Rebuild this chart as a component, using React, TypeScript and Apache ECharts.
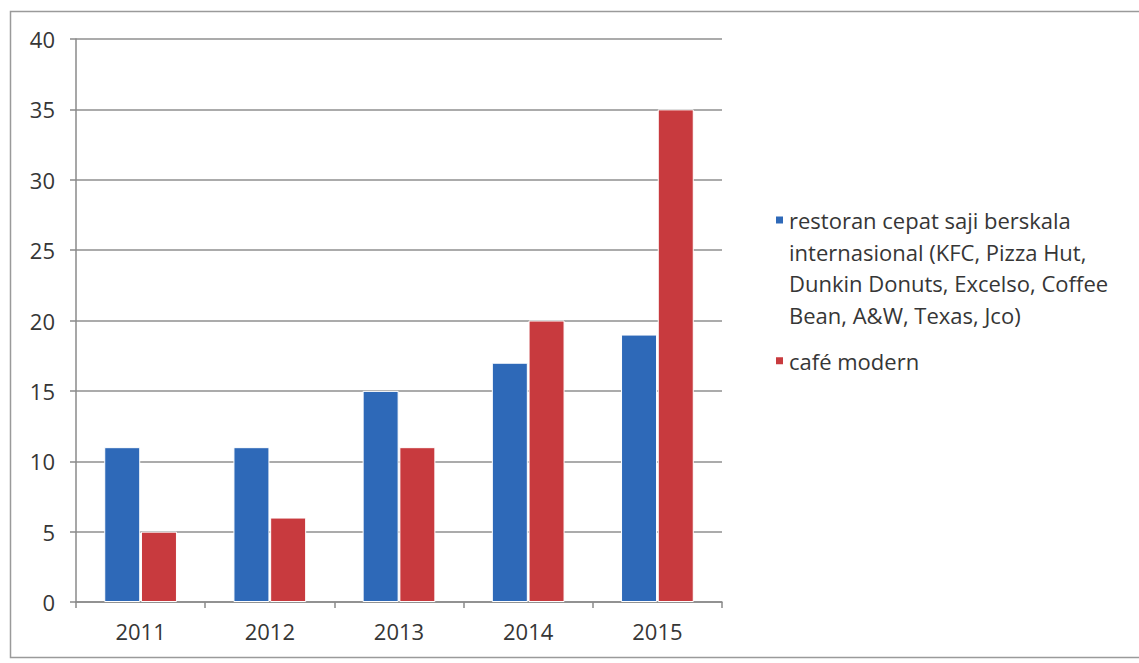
import React, { useEffect, useRef } from "react";
import * as echarts from "echarts";

const years = ["2011", "2012", "2013", "2014", "2015"];
const fastFood = [11, 11, 15, 17, 19];
const cafeModern = [5, 6, 11, 20, 35];
const seriesNames = [
  "restoran cepat saji berskala internasional (KFC, Pizza Hut, Dunkin Donuts, Excelso, Coffee Bean, A&W, Texas, Jco)",
  "café modern",
];
const legendLines = [
  "\n\n\nrestoran cepat saji berskala\ninternasional (KFC, Pizza Hut,\nDunkin Donuts, Excelso, Coffee\nBean, A&W, Texas, Jco)",
  "café modern",
];

const FONT = "'Open Sans', Lato, sans-serif";

export default function App() {
  const ref = useRef<HTMLDivElement>(null);
  useEffect(() => {
    if (!ref.current) return;
    const chart = echarts.init(ref.current, undefined, { renderer: "svg" });
    chart.setOption({
      animation: false,
      backgroundColor: "#ffffff",
      textStyle: { fontFamily: FONT },
      graphic: [
        {
          type: "rect",
          shape: { x: 10.5, y: 11.5, width: 1140, height: 646 },
          style: { fill: "none", stroke: "#9a9a9a", lineWidth: 1.5 },
          silent: true,
        },
      ],
      grid: { left: 76, right: 417, top: 39, bottom: 61, containLabel: false },
      legend: {
        orient: "vertical",
        left: 769,
        top: 104,
        itemWidth: 9,
        itemHeight: 9,
        itemGap: 14,
        icon: "rect",
        textStyle: { fontSize: 22, color: "#363636", lineHeight: 31.7, fontFamily: FONT },
        formatter: (name: string) => legendLines[seriesNames.indexOf(name)],
        data: seriesNames,
      },
      xAxis: {
        type: "category",
        data: years,
        axisLine: { show: true, lineStyle: { color: "#8a8a8a", width: 1.5 } },
        axisTick: { show: true, length: 6, lineStyle: { color: "#8a8a8a", width: 1.5 } },
        axisLabel: { fontSize: 22, color: "#363636", margin: 18, fontFamily: FONT },
        splitLine: { show: false },
      },
      yAxis: {
        type: "value",
        min: 0,
        max: 40,
        interval: 5,
        axisLine: { show: true, lineStyle: { color: "#8a8a8a", width: 1.5 } },
        axisTick: { show: true, length: 6, lineStyle: { color: "#8a8a8a", width: 1.5 } },
        axisLabel: { fontSize: 22, color: "#363636", margin: 21, fontFamily: FONT },
        splitLine: { show: true, lineStyle: { color: "#8f8f8f", width: 1.5 } },
      },
      series: [
        {
          name: seriesNames[0],
          type: "bar",
          data: fastFood,
          barWidth: 36,
          barGap: "2%",
          itemStyle: { color: "#2e69b8", borderColor: "#ffffff", borderWidth: 1 },
        },
        {
          name: seriesNames[1],
          type: "bar",
          data: cafeModern,
          barWidth: 36,
          barGap: "2%",
          itemStyle: { color: "#c83a3e", borderColor: "#ffffff", borderWidth: 1 },
        },
      ],
    });
    return () => chart.dispose();
  }, []);
  return (
    <div
      ref={ref}
      style={{ position: "absolute", left: 0, top: 0, width: 1139, height: 663 }}
    />
  );
}
